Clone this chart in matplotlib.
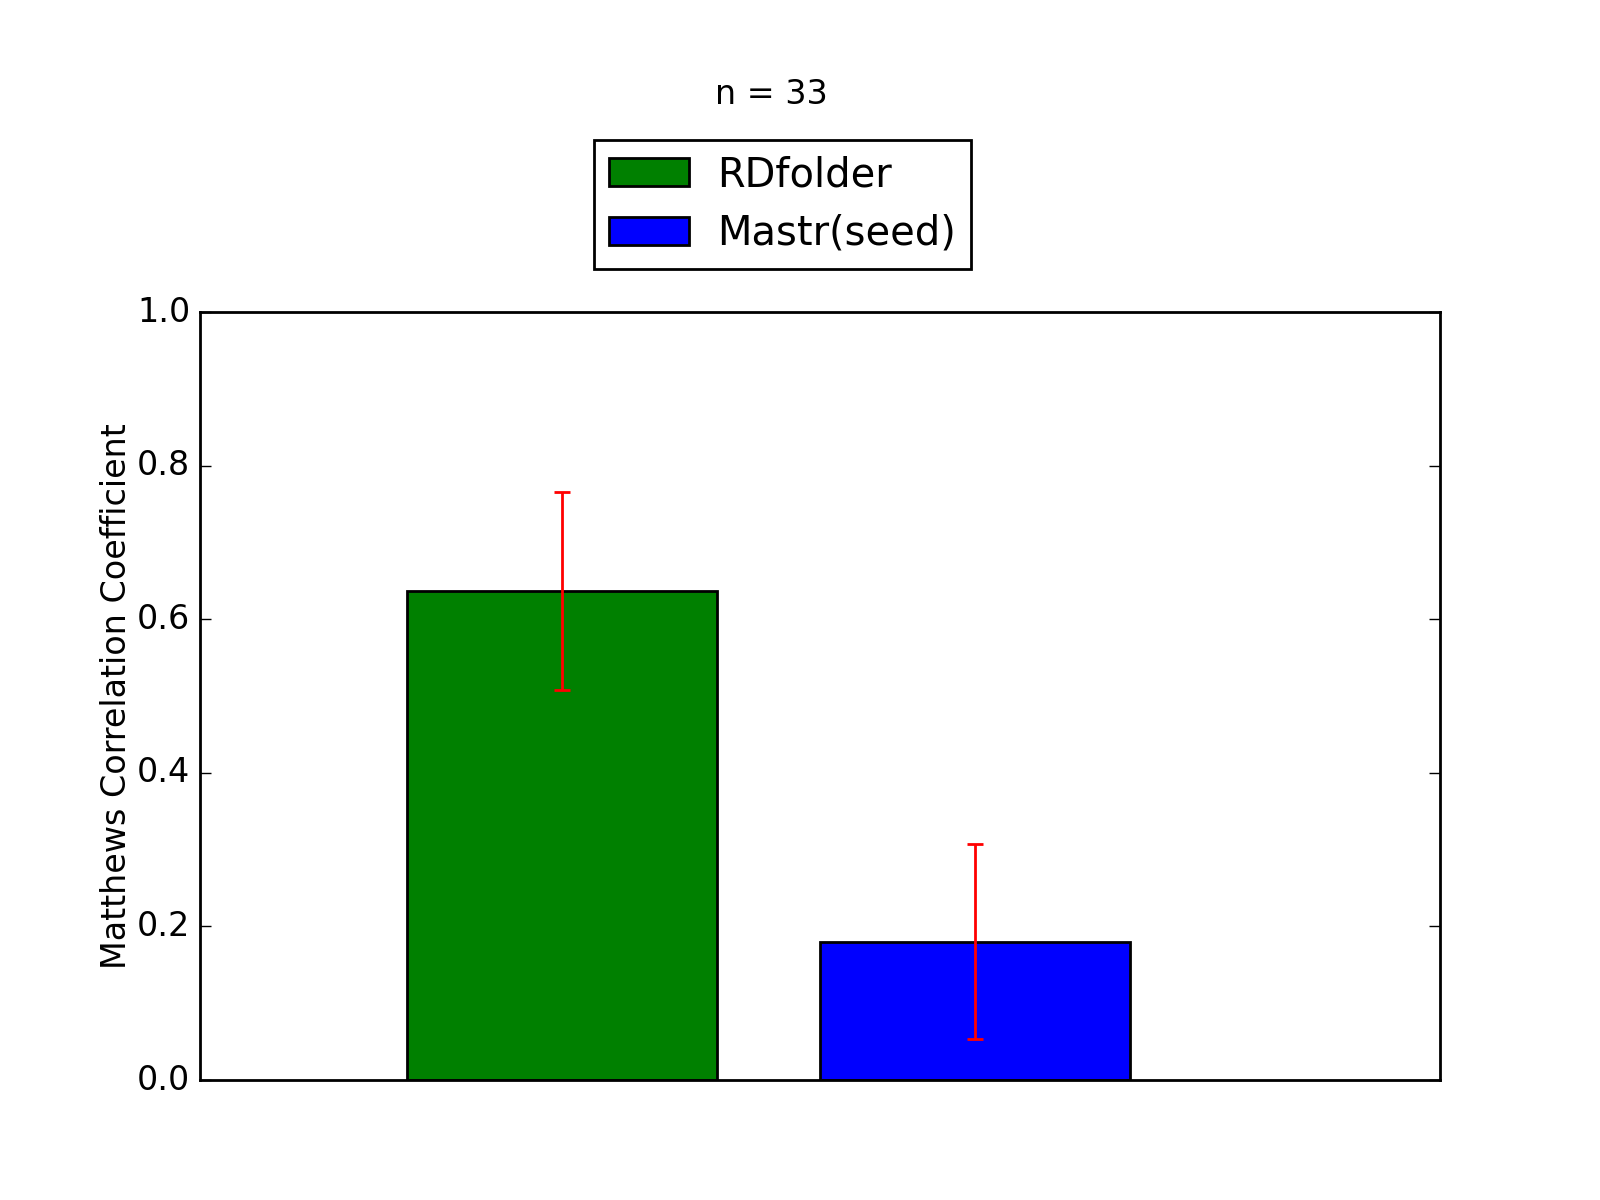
import matplotlib
matplotlib.use("Agg")
import matplotlib.pyplot as plt
import numpy as np

methods = ["RDfolder", "Mastr(seed)"]
mcc_means = [0.637, 0.18]
mcc_errors = [0.129, 0.127]
bar_colors = ["green", "blue"]
n_label = "n = 33"


def setup_plot(ax):
    ax.set_ylabel("Matthews Correlation Coefficient", fontsize=12, labelpad=1.5)
    ax.set_xlim(0, 3)
    ax.set_ylim(0, 1.0)
    ax.set_yticks(np.arange(0, 1.01, 0.2))
    ax.set_xticks([])
    ax.tick_params(axis="y", direction="in", length=11 * 72 / 200, left=True, right=True,
                   labelsize=12, pad=3.5)


if __name__ == "__main__":
    plt.style.use("classic")
    fig = plt.figure(figsize=(8, 6), dpi=200, facecolor="white")
    ax = fig.add_subplot(111)
    fig.subplots_adjust(left=0.125, right=0.9, bottom=0.1, top=0.74)

    x = np.arange(len(methods)) + 0.5
    handles = []
    for i in range(len(methods)):
        b = ax.bar(x[i], mcc_means[i], width=0.75, align="edge", color=bar_colors[i],
                   edgecolor="black", linewidth=1.0, label=methods[i])
        handles.append(b)
        ax.errorbar(x[i] + 0.375, mcc_means[i], yerr=mcc_errors[i], fmt="none",
                    ecolor="red", elinewidth=1.0, capsize=3, capthick=1.0)

    setup_plot(ax)
    fig.text(771 / 1600, 1 - 95 / 1200, n_label, ha="center", va="center", fontsize=12)
    fig.legend(handles=handles, labels=methods, loc="upper center",
               bbox_to_anchor=(782.5 / 1600, 1 - 140 / 1200), borderaxespad=0,
               fontsize=14.4, frameon=True, fancybox=False, borderpad=0.38,
               labelspacing=0.46, handletextpad=0.68, handlelength=2.0)
    fig.savefig("out.png", dpi=200, facecolor="white")
